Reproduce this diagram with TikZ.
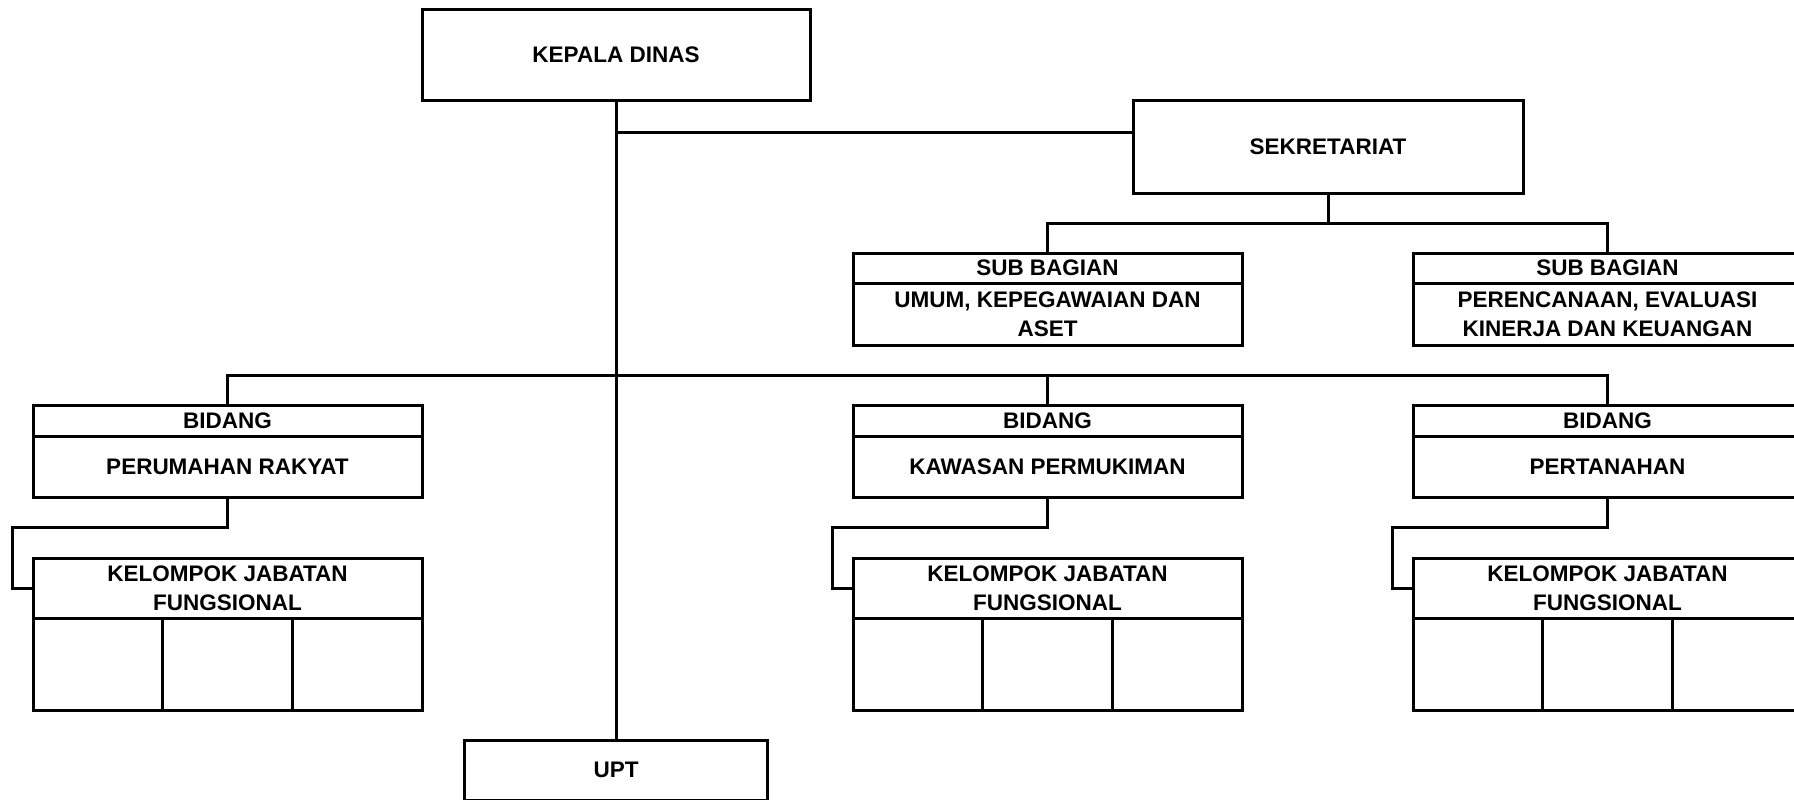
\documentclass[tikz,border=0pt]{standalone}
\usepackage{fontspec}
\setmainfont{Liberation Sans}
\usetikzlibrary{positioning}

\begin{document}
\begin{tikzpicture}[
    x=1pt, y=-1pt,
    node distance=0pt,
    unit/.style={rectangle, draw=black, line width=3pt, outer sep=0pt,
      inner sep=0pt, align=center,
      font=\bfseries\fontsize{22.5}{29}\selectfont},
    head/.style={unit, minimum width=389pt, minimum height=#1},
    cell/.style={unit, minimum width=389pt/3, minimum height=92pt},
    link/.style={black, line width=3pt}
  ]

  \useasboundingbox (0,0) rectangle (1794,800);
  \clip (0,0) rectangle (1794,800);

  % top of the chart

  \node (kadis) [unit, minimum width=388pt, minimum height=90pt] at (616,55)   {KEPALA DINAS};
  \node (sekre) [unit, minimum width=390pt, minimum height=93pt] at (1328,146.5) {SEKRETARIAT};

  \node (sbu)   [head=30pt] at (1047.5,268)   {SUB BAGIAN};
  \node (sbu2)  [head=62pt, below=of sbu]     {UMUM, KEPEGAWAIAN DAN\\
                                               ASET};
  \node (sbp)   [head=30pt] at (1607.5,268)   {SUB BAGIAN};
  \node (sbp2)  [head=62pt, below=of sbp]     {PERENCANAAN, EVALUASI\\
                                               KINERJA DAN KEUANGAN};

  % the three bidang columns

  \node (bpr)   [head=31pt] at (227.5,420.5)  {BIDANG};
  \node (bpr2)  [head=61pt, below=of bpr]     {PERUMAHAN RAKYAT};
  \node (kpr)   [head=60pt, below=61pt of bpr2] {KELOMPOK JABATAN\\
                                                 FUNGSIONAL};
  \node (kpr1)  [cell, below right=0pt and 0pt of kpr.south west] {};
  \node (kpr2)  [cell, right=of kpr1] {};
  \node (kpr3)  [cell, right=of kpr2] {};

  \node (bkp)   [head=31pt] at (1047.5,420.5) {BIDANG};
  \node (bkp2)  [head=61pt, below=of bkp]     {KAWASAN PERMUKIMAN};
  \node (kkp)   [head=60pt, below=61pt of bkp2] {KELOMPOK JABATAN\\
                                                 FUNGSIONAL};
  \node (kkp1)  [cell, below right=0pt and 0pt of kkp.south west] {};
  \node (kkp2)  [cell, right=of kkp1] {};
  \node (kkp3)  [cell, right=of kkp2] {};

  \node (bpt)   [head=31pt] at (1607.5,420.5) {BIDANG};
  \node (bpt2)  [head=61pt, below=of bpt]     {PERTANAHAN};
  \node (kpt)   [head=60pt, below=61pt of bpt2] {KELOMPOK JABATAN\\
                                                 FUNGSIONAL};
  \node (kpt1)  [cell, below right=0pt and 0pt of kpt.south west] {};
  \node (kpt2)  [cell, right=of kpt1] {};
  \node (kpt3)  [cell, right=of kpt2] {};

  \node (upt)   [unit, minimum width=303pt, minimum height=60pt] at (616,770) {UPT};

  % connectors

  \coordinate (kadisj) at (616,132);

  \draw[link] (kadis.south) -- (upt.north);
  \draw[link] (kadisj) -- (kadisj -| sekre.west);

  \draw[link] (sekre.south) -- ++(0,30);
  \draw[link] (sbu.north) -- ++(0,-30) -| (sbp.north);

  \draw[link] (bpr.north) -- ++(0,-30) -| (bpt.north);
  \draw[link] (bkp.north) -- ++(0,-30);

  \draw[link] (bpr2.south) -- ++(0,30) -| ([xshift=-21pt]kpr.west) -- (kpr.west);
  \draw[link] (bkp2.south) -- ++(0,30) -| ([xshift=-21pt]kkp.west) -- (kkp.west);
  \draw[link] (bpt2.south) -- ++(0,30) -| ([xshift=-21pt]kpt.west) -- (kpt.west);

\end{tikzpicture}
\end{document}
